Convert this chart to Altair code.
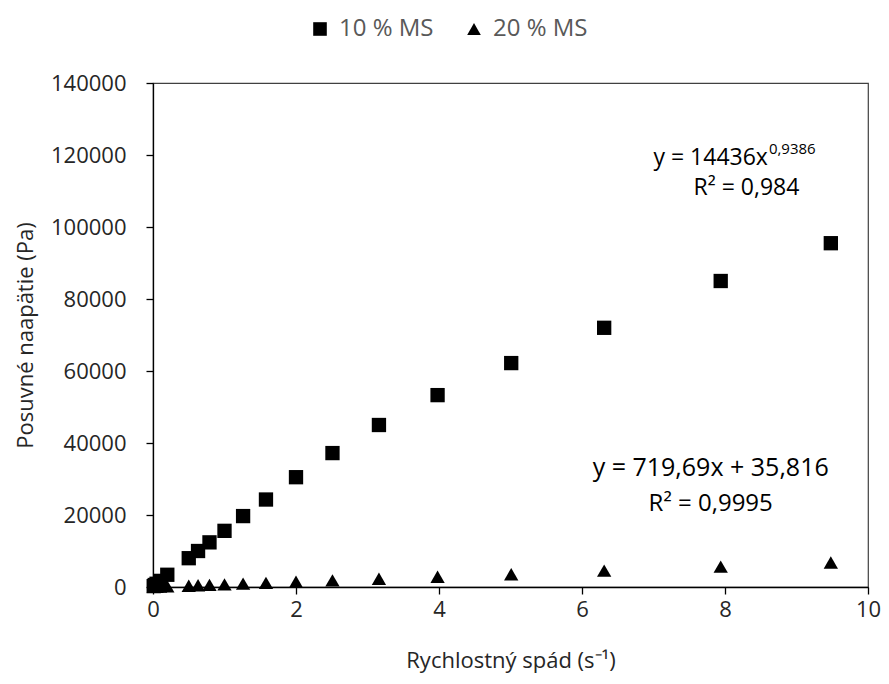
import altair as alt
import pandas as pd

# ---- data ----
series_names = ["10 % MS", "20 % MS"]

x_10 = [0.01, 0.025, 0.05, 0.1, 0.2, 0.5, 0.63, 0.79, 1.0, 1.26, 1.58, 2.0, 2.51, 3.16, 3.98, 5.01, 6.31, 7.94, 9.48]
y_10 = [250, 550, 900, 1700, 3400, 8000, 10000, 12400, 15600, 19700, 24300, 30500, 37200, 45000, 53300, 62200, 72000, 85000, 95500]

x_20 = [0.01, 0.025, 0.05, 0.1, 0.2, 0.5, 0.63, 0.79, 1.0, 1.26, 1.58, 2.0, 2.51, 3.16, 3.98, 5.01, 6.31, 7.94, 9.48]
y_20 = [40, 60, 80, 110, 180, 350, 470, 600, 740, 930, 1150, 1450, 1830, 2300, 2850, 3550, 4550, 5650, 6800]

x_ticks = [0, 2, 4, 6, 8, 10]
y_ticks = [0, 20000, 40000, 60000, 80000, 100000, 120000, 140000]

# annotation texts and their anchor positions (data units)
ann_main = ["y = 14436x", "R² = 0,984", "y = 719,69x + 35,816", "R² = 0,9995"]
ann_x = [8.6, 8.3, 7.8, 7.8]
ann_y = [119200, 110800, 33060, 23060]
ann_size = [23, 23, 25, 24]
sup_text = ["0,9386"]
sup_x = [8.6]
sup_y = [119200]

FONT = "Open Sans"

df = pd.DataFrame({
    "x": x_10 + x_20,
    "y": y_10 + y_20,
    "s": [series_names[0]] * len(x_10) + [series_names[1]] * len(x_20),
})

xs = alt.Scale(domain=[0, 10], nice=False, zero=False)
ys = alt.Scale(domain=[0, 140000], nice=False)

points = alt.Chart(df).mark_point(filled=True, opacity=1, size=205, color="black").encode(
    x=alt.X("x:Q", scale=xs,
            axis=alt.Axis(values=x_ticks, format="d", title="Rychlostný spád (s⁻¹)",
                          titlePadding=30, labelPadding=5, labelFlush=False)),
    y=alt.Y("y:Q", scale=ys,
            axis=alt.Axis(values=y_ticks, format="d", title="Posuvné naapätie (Pa)",
                          titlePadding=13, labelPadding=20)),
    shape=alt.Shape("s:N", scale=alt.Scale(domain=series_names, range=["square", "triangle-up"]),
                    legend=alt.Legend(title=None, orient="none", direction="horizontal",
                                      legendX=155, legendY=-66, symbolSize=185,
                                      labelFontSize=24, labelColor="#595959", labelFont=FONT,
                                      columnPadding=28, labelOffset=7,
                                      symbolFillColor="black", symbolStrokeColor="black",
                                      symbolStrokeWidth=0)),
)

ann_df = pd.DataFrame({"t": ann_main, "x": ann_x, "y": ann_y, "fs": ann_size})
ann_layers = []
for i in range(len(ann_main)):
    sub = ann_df.iloc[[i]]
    ann_layers.append(
        alt.Chart(sub).mark_text(align="right" if i == 0 else "center", baseline="middle",
                                 fontSize=int(ann_size[i]), font=FONT, color="black").encode(
            x=alt.X("x:Q", scale=xs), y=alt.Y("y:Q", scale=ys), text="t:N")
    )

sup_df = pd.DataFrame({"t": sup_text, "x": sup_x, "y": sup_y})
sup = alt.Chart(sup_df).mark_text(align="left", baseline="middle", fontSize=15, font=FONT,
                                  color="black", dy=-9, dx=1).encode(
    x=alt.X("x:Q", scale=xs), y=alt.Y("y:Q", scale=ys), text="t:N")

chart = alt.layer(points, *ann_layers, sup).properties(
    width=715, height=504,
    autosize=alt.AutoSizeParams(type="none"),
    padding={"left": 145, "top": 75, "right": 13, "bottom": 88},
).configure_view(
    stroke="#404040", strokeWidth=1.2
).configure_axis(
    grid=False, domainColor="black", domainWidth=1.3, tickColor="black", tickWidth=1.3,
    tickSize=7, labelFont=FONT, labelFontSize=22, labelColor="#262626",
    titleFont=FONT, titleFontSize=22, titleColor="#262626", titleFontWeight="normal",
).configure_axisY(labelAlign="right", labelBaseline="middle")

chart.save("out.html", embed_options={"renderer": "svg", "actions": False})
